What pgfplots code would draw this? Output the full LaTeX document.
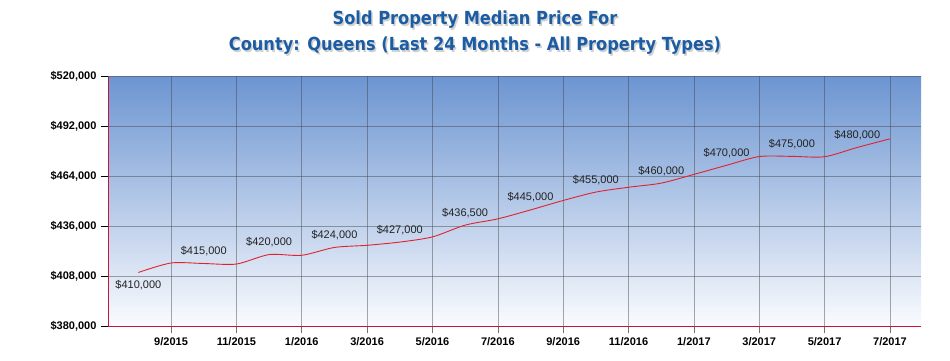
\documentclass[border=0pt]{standalone}
\usepackage{fontspec}
\setmainfont{Liberation Sans}
\newfontfamily\titlefont[FakeStretch=0.9]{DejaVu Sans}
\usepackage{pgfplots}
\pgfplotsset{compat=1.18}
\usepackage{pgfplotstable}
\definecolor{titleblue}{HTML}{1B5CA3}
\definecolor{topblue}{HTML}{6C95D1}
\definecolor{botblue}{HTML}{FAFBFE}
\definecolor{axisred}{HTML}{C8143C}
\definecolor{linered}{HTML}{E0222E}
\definecolor{lbl}{HTML}{222222}

\pgfplotstableread{
x y
0 410000
1 415300
2 415000
3 414700
4 420000
5 419600
6 424000
7 425200
8 427000
9 429900
10 436500
11 440000
12 445000
13 450300
14 455000
15 457700
16 460000
17 464900
18 470000
19 474900
20 475000
21 474800
22 480000
23 484800
}\series

\pgfplotstableread{
x y
2 415000
4 420000
6 424000
8 427000
10 436500
12 445000
14 455000
16 460000
18 470000
20 475000
22 480000
}\labelsabove

\pgfplotstableread{
x y
0 410000
}\labelsbelow

\begin{document}
\begin{tikzpicture}
\path (0pt,0pt) rectangle (950pt,360pt);
\node[text=black!18, font=\titlefont\bfseries\fontsize{18}{20}\selectfont] at (476.5pt,338.5pt) {Sold Property Median Price For};
\node[text=titleblue, font=\titlefont\bfseries\fontsize{18}{20}\selectfont] at (475pt,340pt) {Sold Property Median Price For};
\node[text=black!18, font=\titlefont\bfseries\fontsize{18}{20}\selectfont] at (476.5pt,312.5pt) {County: Queens (Last 24 Months - All Property Types)};
\node[text=titleblue, font=\titlefont\bfseries\fontsize{18}{20}\selectfont] at (475pt,314pt) {County: Queens (Last 24 Months - All Property Types)};
\begin{axis}[
  at={(108pt,34pt)}, anchor=south west,
  width=813pt, height=250pt, scale only axis,
  xmin=-0.93, xmax=23.95,
  ymin=380000, ymax=520000,
  ytick={380000,408000,436000,464000,492000,520000},
  xtick={1,3,5,7,9,11,13,15,17,19,21,23},
  xticklabels={9/2015,11/2015,1/2016,3/2016,5/2016,7/2016,9/2016,11/2016,1/2017,3/2017,5/2017,7/2017},
  /pgf/number format/assume math mode=true,
  yticklabel={\$\pgfmathprintnumber[fixed,precision=0,1000 sep={,}]{\tick}},
  scaled y ticks=false,
  axis x line*=bottom, axis y line*=left,
  axis line style={axisred, line width=0.9pt, -},
  tick align=outside,
  major tick length=7pt,
  xtick style={black!55, line width=0.6pt},
  ytick style={black, line width=0.8pt},
  ticklabel style={font=\fontsize{11}{13}\selectfont\bfseries, text=black},
  xticklabel style={yshift=-1pt},
  yticklabel style={xshift=-1pt},
  grid=major,
  major grid style={draw=black!75, opacity=0.45, line width=0.6pt},
  axis background/.style={top color=topblue, bottom color=botblue},
  clip=false,
]
\addplot[linered, line width=0.9pt, smooth, tension=0.45] table[x=x,y=y] {\series};
\addplot[draw=none, mark=none,
  nodes near coords={\$\pgfmathprintnumber[fixed,precision=0,1000 sep={,}]{\pgfplotspointmeta}},
  point meta=y,
  nodes near coords style={font=\fontsize{11}{13}\selectfont, text=lbl, anchor=south, yshift=4pt}]
  table[x=x,y=y] {\labelsabove};
\addplot[draw=none, mark=none,
  nodes near coords={\$\pgfmathprintnumber[fixed,precision=0,1000 sep={,}]{\pgfplotspointmeta}},
  point meta=y,
  nodes near coords style={font=\fontsize{11}{13}\selectfont, text=lbl, anchor=north, yshift=-4pt}]
  table[x=x,y=y] {\labelsbelow};
\end{axis}
\end{tikzpicture}
\end{document}
